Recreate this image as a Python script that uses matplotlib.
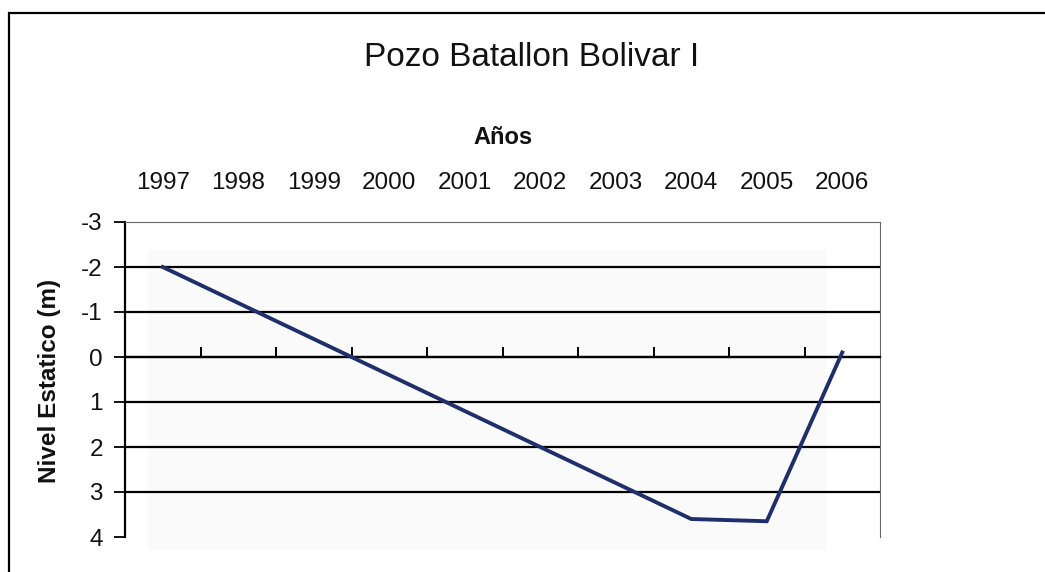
import matplotlib
matplotlib.use("Agg")
import matplotlib.pyplot as plt
from matplotlib.patches import Rectangle

# values
years = ["1997", "1998", "1999", "2000", "2001", "2002", "2003", "2004", "2005", "2006"]
nivel = [-2.0, -1.2, -0.4, 0.4, 1.2, 2.0, 2.8, 3.6, 3.65, -0.1]
y_ticks = [-3, -2, -1, 0, 1, 2, 3, 4]

plt.rcParams["font.family"] = ["Liberation Sans", "DejaVu Sans"]

fig = plt.figure(figsize=(10.45, 5.72), dpi=100)
ax = fig.add_axes([125 / 1045, 1 - 537 / 572, 755 / 1045, 315 / 572])

x = list(range(len(years)))

# faint grey plot area from the scan
ax.add_patch(Rectangle((0.03, -0.04), 0.9, 0.95, transform=ax.transAxes,
                       facecolor="#fafafa", edgecolor="none", zorder=0, clip_on=False))

for v in y_ticks[1:-1]:
    ax.axhline(v, color="black", lw=1.6, zorder=1)

ax.plot(x, nivel, color="#1f2f6b", lw=2.8, zorder=3, solid_joinstyle="miter")

ax.set_xlim(-0.5, len(years) - 0.5)
ax.set_ylim(4, -3)
ax.set_yticks(y_ticks)
ax.set_yticklabels([str(v) for v in y_ticks])

# category axis crossing at 0, tick marks between categories
ax.spines["bottom"].set_position(("data", 0))
ax.spines["bottom"].set_color("black")
ax.spines["bottom"].set_linewidth(1.6)
ax.set_xticks([i + 0.5 for i in range(len(years) - 1)])
ax.tick_params(axis="x", which="major", direction="in", length=7, width=1.4,
               bottom=True, top=False, labelbottom=False, colors="black")
ax.set_xticks(x, years, minor=True)
ax.tick_params(axis="x", which="minor", bottom=False, top=True, length=0,
               labeltop=True, labelbottom=False, labelsize=17.5, pad=20, colors="#111111")

ax.spines["left"].set_linewidth(1.6)
ax.tick_params(axis="y", direction="out", length=8, width=1.4, labelsize=17.5,
               pad=8, colors="#111111")
ax.spines["top"].set_linestyle((0, (2, 1)))
ax.spines["top"].set_color("#666666")
ax.spines["right"].set_linestyle((0, (2, 1)))
ax.spines["right"].set_color("#666666")
ax.patch.set_alpha(0)

fig.text(532 / 1045, 1 - 57 / 572, "Pozo Batallon Bolivar I", ha="center", va="center",
         fontsize=24, color="#111111")
fig.text(503 / 1045, 1 - 137 / 572, "Años", ha="center", va="center",
         fontsize=17, fontweight="bold", color="#111111")
fig.text(50 / 1045, 1 - 381 / 572, "Nivel Estatico (m)", ha="center", va="center",
         rotation=90, fontsize=17.5, fontweight="bold", color="#111111")

# chart border (only left and top edges fall inside the scan)
fig.add_artist(Rectangle((9 / 1045, -0.2), 1.5, 1.2 - 13 / 572, transform=fig.transFigure,
                         fill=False, edgecolor="black", lw=1.6))

fig.savefig("out.png", dpi=100)
